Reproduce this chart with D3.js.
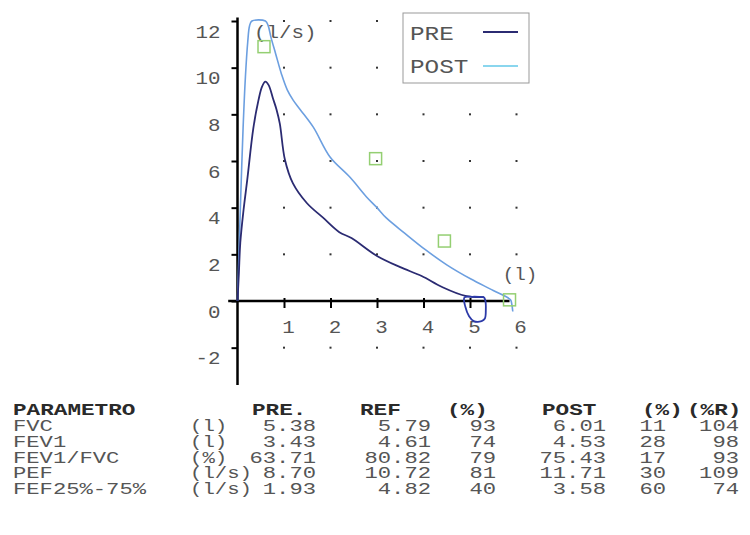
<!DOCTYPE html>
<html>
<head>
<meta charset="utf-8">
<script src="https://cdn.jsdelivr.net/npm/d3@7"></script>
<style>
  body { margin: 0; background: #fff; }
  svg text { font-family: "Liberation Mono", "DejaVu Sans Mono", monospace; }
</style>
</head>
<body>
<svg id="chart" width="750" height="535"></svg>
<script>
// flow-volume curves: [volume (l), flow (l/s)]
const preCurve = [
  [0, 0], [0.03, 1.2], [0.06, 2.5], [0.13, 3.9], [0.21, 5.2], [0.34, 7.4],
  [0.45, 8.6], [0.53, 9.2], [0.6, 9.4], [0.67, 9.25], [0.76, 8.7], [0.84, 8.2],
  [0.91, 7.6], [1.02, 6.05], [1.19, 5.05], [1.49, 4.2], [1.84, 3.57], [2.19, 2.95],
  [2.45, 2.7], [3.0, 1.93], [3.5, 1.45], [3.96, 1.07], [4.4, 0.6], [4.9, 0.22],
  [5.3, 0.17]
];
const preLoop = [
  [5.3, 0.17], [5.33, 0.02], [5.34, -0.4], [5.32, -0.75], [5.25, -0.86],
  [5.08, -0.86], [4.98, -0.65], [4.9, -0.25], [4.88, 0.15], [5.05, 0.18], [5.3, 0.17]
];
const postCurve = [
  [0, 0], [0.03, 2], [0.07, 4.5], [0.12, 7.4], [0.17, 9.6], [0.22, 11.1],
  [0.26, 11.8], [0.31, 12], [0.6, 12], [0.66, 11.8], [0.72, 11.3], [0.82, 10.6],
  [0.95, 9.7], [1.07, 9.05], [1.2, 8.6], [1.35, 8.2], [1.63, 7.45], [1.99, 6.17],
  [2.42, 5.3], [2.78, 4.45], [3.0, 4.0], [3.2, 3.56], [3.6, 2.9], [4.04, 2.2],
  [4.5, 1.55], [5.02, 0.94], [5.5, 0.45], [5.87, 0.05], [5.9, -0.15], [5.92, -0.45]
];
// predicted (reference) points
const refPoints = [[0.57, 10.9], [2.97, 6.1], [4.45, 2.57], [5.85, 0.05]];

const xTicks = [1, 2, 3, 4, 5, 6];
const yTicks = [-2, 0, 2, 4, 6, 8, 10, 12];
const dotY = [-2, 2, 4, 6, 8, 10, 12];

// results table
const header = ["PARAMETRO", "PRE.", "REF", "(%)", "POST", "(%)", "(%R)"];
const params = ["FVC", "FEV1", "FEV1/FVC", "PEF", "FEF25%-75%"];
const units = ["(l)", "(l)", "(%)", "(l/s)", "(l/s)"];
const preVals = ["5.38", "3.43", "63.71", "8.70", "1.93"];
const refVals = ["5.79", "4.61", "80.82", "10.72", "4.82"];
const prePct = ["93", "74", "79", "81", "40"];
const postVals = ["6.01", "4.53", "75.43", "11.71", "3.58"];
const postPct = ["11", "28", "17", "30", "60"];
const postRefPct = ["104", "98", "93", "109", "74"];

const preColor = "#2b2b72";
const loopColor = "#2c3aa8";
const postColor = "#6c9fe0";
const postLegend = "#8ad6ee";
const refColor = "#94cf72";
const textColor = "#555";

const svg = d3.select("#chart");

// stretch monospaced text to a given advance per character
function fit(sel, adv) {
  sel.each(function() {
    const t = d3.select(this);
    t.attr("textLength", t.text().length * adv).attr("lengthAdjust", "spacingAndGlyphs");
  });
  return sel;
}

const x = d3.scaleLinear().domain([0, 6]).range([237.5, 516.5]);
const y = d3.scaleLinear().domain([0, 12]).range([301, 21]);

// grid dots
const dots = [];
xTicks.forEach(v => dotY.forEach(w => dots.push([v, w])));
svg.append("g")
  .selectAll("rect")
  .data(dots)
  .join("rect")
  .attr("x", d => x(d[0]) - 1)
  .attr("y", d => y(d[1]) - 1)
  .attr("width", 2)
  .attr("height", 2)
  .attr("fill", "#333");

// axes
const yAxis = d3.axisLeft(y).tickValues(yTicks).tickSize(6).tickPadding(11)
  .tickFormat(d => d < 0 ? "-" + Math.abs(d) : d);
const yg = svg.append("g").attr("transform", `translate(${x(0)},0)`).call(yAxis);
yg.select(".domain").remove();
yg.selectAll(".tick line").attr("stroke", "#000").attr("stroke-width", 2);
yg.selectAll(".tick text")
  .attr("dy", "0.85em")
  .attr("font-size", 19)
  .attr("font-family", null)
  .attr("fill", textColor)
  .call(fit, 12.5);

const xAxis = d3.axisBottom(x).tickValues([1, 2, 3, 4, 5]).tickSize(7).tickPadding(12)
  .tickFormat(d3.format("d"));
const xg = svg.append("g").attr("transform", `translate(0,${y(0)})`).call(xAxis);
xg.select(".domain").remove();
xg.selectAll(".tick line").attr("stroke", "#000").attr("stroke-width", 2).attr("y1", -3);
xg.selectAll(".tick text")
  .attr("dx", 4)
  .attr("font-size", 19)
  .attr("font-family", null)
  .attr("fill", textColor)
  .call(fit, 12.5);
// label "6" sits past the end of the axis line
xg.append("text")
  .attr("x", x(6) + 4)
  .attr("y", 19)
  .attr("dy", "0.71em")
  .attr("text-anchor", "middle")
  .attr("font-size", 19)
  .attr("fill", textColor)
  .text("6")
  .call(fit, 12.5);

svg.append("line")
  .attr("x1", x(0)).attr("x2", x(0))
  .attr("y1", y(12.15)).attr("y2", y(-3.6))
  .attr("stroke", "#000").attr("stroke-width", 2.5);
svg.append("line")
  .attr("x1", x(-0.2)).attr("x2", x(5.85))
  .attr("y1", y(0)).attr("y2", y(0))
  .attr("stroke", "#000").attr("stroke-width", 2.5);

// unit labels
svg.append("text").attr("x", 254).attr("y", 38)
  .attr("font-size", 19).attr("fill", textColor).text("(l/s)").call(fit, 12.5);
svg.append("text").attr("x", 520).attr("y", 280).attr("text-anchor", "middle")
  .attr("font-size", 18).attr("fill", textColor).text("(l)").call(fit, 11.5);

// curves
const line = d3.line()
  .x(d => x(d[0]))
  .y(d => y(d[1]))
  .curve(d3.curveCatmullRom.alpha(0.5));

svg.append("path").datum(postCurve)
  .attr("d", line).attr("fill", "none")
  .attr("stroke", postColor).attr("stroke-width", 1.6);
svg.append("path").datum(preCurve)
  .attr("d", line).attr("fill", "none")
  .attr("stroke", preColor).attr("stroke-width", 1.8);
svg.append("path").datum(preLoop)
  .attr("d", line).attr("fill", "none")
  .attr("stroke", loopColor).attr("stroke-width", 1.8);

// reference squares
svg.append("g")
  .selectAll("rect")
  .data(refPoints)
  .join("rect")
  .attr("x", d => x(d[0]) - 6)
  .attr("y", d => y(d[1]) - 6)
  .attr("width", 12)
  .attr("height", 12)
  .attr("fill", "none")
  .attr("stroke", refColor)
  .attr("stroke-width", 1.5);

// legend
const legend = svg.append("g");
legend.append("rect")
  .attr("x", 403).attr("y", 13).attr("width", 126).attr("height", 70)
  .attr("fill", "#fff").attr("stroke", "#999");
[["PRE", preColor, 40, 32], ["POST", postLegend, 73, 66]].forEach(l => {
  legend.append("text").attr("x", 410).attr("y", l[2])
    .attr("font-size", 20).attr("fill", textColor).text(l[0]).call(fit, 14.6);
  legend.append("line")
    .attr("x1", 483).attr("x2", 518).attr("y1", l[3]).attr("y2", l[3])
    .attr("stroke", l[1]).attr("stroke-width", 2);
});

// table
const table = svg.append("g").attr("font-size", 17);
const headX = [13, 252, 360, 447, 542, 642, 687];
header.forEach((h, i) => {
  table.append("text")
    .attr("x", headX[i]).attr("y", 415)
    .attr("font-weight", "bold").attr("fill", "#2a2a2a")
    .text(h)
    .call(fit, 13.6);
});
const rowY = d3.scaleLinear().domain([0, 4]).range([431, 494]);
const cols = [
  [params, 13, "start"],
  [units, 190, "start"],
  [preVals, 316, "end"],
  [refVals, 431, "end"],
  [prePct, 496, "end"],
  [postVals, 606, "end"],
  [postPct, 666, "end"],
  [postRefPct, 739, "end"]
];
cols.forEach(c => {
  table.append("g")
    .selectAll("text")
    .data(c[0])
    .join("text")
    .attr("x", c[1])
    .attr("y", (d, i) => rowY(i))
    .attr("text-anchor", c[2])
    .attr("fill", textColor)
    .text(d => d)
    .call(fit, c[0] === units ? 12.4 : 13.3);
});
</script>
</body>
</html>
